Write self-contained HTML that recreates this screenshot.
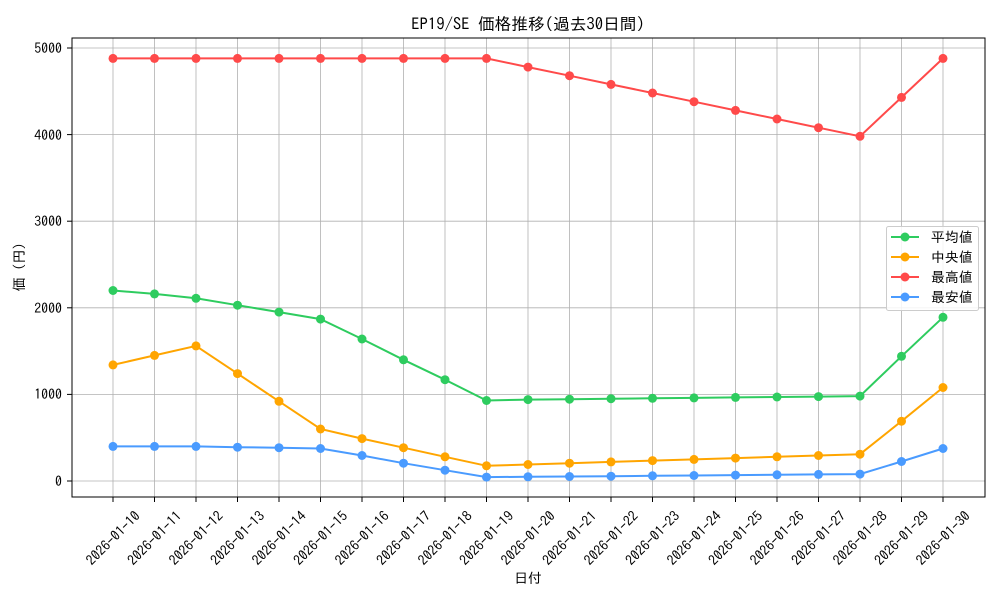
<!DOCTYPE html>
<html><head><meta charset="utf-8"><style>body{margin:0;background:#fff}svg{display:block;font-family:"IPAGothic","Noto Sans CJK JP",sans-serif}</style></head><body>
<svg width="1000" height="600" viewBox="0 0 1000 600">
<rect width="1000" height="600" fill="#fff"/>
<g stroke="#b0b0b0" stroke-width="0.8">
<line x1="72" x2="985" y1="481" y2="481"/><line x1="72" x2="985" y1="394.4" y2="394.4"/><line x1="72" x2="985" y1="307.8" y2="307.8"/><line x1="72" x2="985" y1="221.2" y2="221.2"/><line x1="72" x2="985" y1="134.6" y2="134.6"/><line x1="72" x2="985" y1="48" y2="48"/>
<line x1="113" x2="113" y1="38" y2="497"/><line x1="154.5" x2="154.5" y1="38" y2="497"/><line x1="196" x2="196" y1="38" y2="497"/><line x1="237.5" x2="237.5" y1="38" y2="497"/><line x1="279" x2="279" y1="38" y2="497"/><line x1="320.5" x2="320.5" y1="38" y2="497"/><line x1="362" x2="362" y1="38" y2="497"/><line x1="403.5" x2="403.5" y1="38" y2="497"/><line x1="445" x2="445" y1="38" y2="497"/><line x1="486.5" x2="486.5" y1="38" y2="497"/><line x1="528" x2="528" y1="38" y2="497"/><line x1="569.5" x2="569.5" y1="38" y2="497"/><line x1="611" x2="611" y1="38" y2="497"/><line x1="652.5" x2="652.5" y1="38" y2="497"/><line x1="694" x2="694" y1="38" y2="497"/><line x1="735.5" x2="735.5" y1="38" y2="497"/><line x1="777" x2="777" y1="38" y2="497"/><line x1="818.5" x2="818.5" y1="38" y2="497"/><line x1="860" x2="860" y1="38" y2="497"/><line x1="901.5" x2="901.5" y1="38" y2="497"/><line x1="943" x2="943" y1="38" y2="497"/>
</g>
<rect x="72" y="38" width="913" height="459" fill="none" stroke="#000" stroke-width="1"/>
<g stroke="#000"><line x1="67" x2="72" y1="481" y2="481"/><line x1="67" x2="72" y1="394.4" y2="394.4"/><line x1="67" x2="72" y1="307.8" y2="307.8"/><line x1="67" x2="72" y1="221.2" y2="221.2"/><line x1="67" x2="72" y1="134.6" y2="134.6"/><line x1="67" x2="72" y1="48" y2="48"/>
<line x1="113" x2="113" y1="497" y2="502"/><line x1="154.5" x2="154.5" y1="497" y2="502"/><line x1="196" x2="196" y1="497" y2="502"/><line x1="237.5" x2="237.5" y1="497" y2="502"/><line x1="279" x2="279" y1="497" y2="502"/><line x1="320.5" x2="320.5" y1="497" y2="502"/><line x1="362" x2="362" y1="497" y2="502"/><line x1="403.5" x2="403.5" y1="497" y2="502"/><line x1="445" x2="445" y1="497" y2="502"/><line x1="486.5" x2="486.5" y1="497" y2="502"/><line x1="528" x2="528" y1="497" y2="502"/><line x1="569.5" x2="569.5" y1="497" y2="502"/><line x1="611" x2="611" y1="497" y2="502"/><line x1="652.5" x2="652.5" y1="497" y2="502"/><line x1="694" x2="694" y1="497" y2="502"/><line x1="735.5" x2="735.5" y1="497" y2="502"/><line x1="777" x2="777" y1="497" y2="502"/><line x1="818.5" x2="818.5" y1="497" y2="502"/><line x1="860" x2="860" y1="497" y2="502"/><line x1="901.5" x2="901.5" y1="497" y2="502"/><line x1="943" x2="943" y1="497" y2="502"/></g>
<g font-size="13.9" text-anchor="end" fill="#000"><text x="62" y="486">0</text><text x="62" y="399">1000</text><text x="62" y="313">2000</text><text x="62" y="226">3000</text><text x="62" y="140">4000</text><text x="62" y="53">5000</text></g>
<g font-size="13.9" text-anchor="middle" fill="#000">
<text transform="translate(113,538) rotate(-45)" dy="5">2026-01-10</text><text transform="translate(154.5,538) rotate(-45)" dy="5">2026-01-11</text><text transform="translate(196,538) rotate(-45)" dy="5">2026-01-12</text><text transform="translate(237.5,538) rotate(-45)" dy="5">2026-01-13</text><text transform="translate(279,538) rotate(-45)" dy="5">2026-01-14</text><text transform="translate(320.5,538) rotate(-45)" dy="5">2026-01-15</text><text transform="translate(362,538) rotate(-45)" dy="5">2026-01-16</text><text transform="translate(403.5,538) rotate(-45)" dy="5">2026-01-17</text><text transform="translate(445,538) rotate(-45)" dy="5">2026-01-18</text><text transform="translate(486.5,538) rotate(-45)" dy="5">2026-01-19</text><text transform="translate(528,538) rotate(-45)" dy="5">2026-01-20</text><text transform="translate(569.5,538) rotate(-45)" dy="5">2026-01-21</text><text transform="translate(611,538) rotate(-45)" dy="5">2026-01-22</text><text transform="translate(652.5,538) rotate(-45)" dy="5">2026-01-23</text><text transform="translate(694,538) rotate(-45)" dy="5">2026-01-24</text><text transform="translate(735.5,538) rotate(-45)" dy="5">2026-01-25</text><text transform="translate(777,538) rotate(-45)" dy="5">2026-01-26</text><text transform="translate(818.5,538) rotate(-45)" dy="5">2026-01-27</text><text transform="translate(860,538) rotate(-45)" dy="5">2026-01-28</text><text transform="translate(901.5,538) rotate(-45)" dy="5">2026-01-29</text><text transform="translate(943,538) rotate(-45)" dy="5">2026-01-30</text>
</g>
<text x="528" y="583" font-size="13.9" text-anchor="middle">日付</text>
<text transform="translate(24,267) rotate(-90)" font-size="13.9" text-anchor="middle">価 (円)</text>
<text x="528" y="30" font-size="16.7" text-anchor="middle">EP19/SE 価格推移(過去30日間)</text>
<g fill="none" stroke-width="2">
<polyline stroke="#ff4a4a" points="113,58.4 154.5,58.4 196,58.4 237.5,58.4 279,58.4 320.5,58.4 362,58.4 403.5,58.4 445,58.4 486.5,58.4 528,67.1 569.5,75.7 611,84.4 652.5,93 694,101.7 735.5,110.4 777,119 818.5,127.7 860,136.3 901.5,97.4 943,58.4"/>
<polyline stroke="#2ecc5f" points="113,290.5 154.5,293.9 196,298.3 237.5,305.2 279,312.1 320.5,319.1 362,339 403.5,359.8 445,379.7 486.5,400.5 528,399.6 569.5,399.2 611,398.7 652.5,398.3 694,397.9 735.5,397.4 777,397 818.5,396.6 860,396.1 901.5,356.3 943,317.3"/>
<polyline stroke="#ffa500" points="113,364.9 154.5,355.4 196,345.9 237.5,373.6 279,401.3 320.5,429 362,438.6 403.5,447.7 445,456.8 486.5,465.8 528,464.5 569.5,463.2 611,461.9 652.5,460.6 694,459.4 735.5,458.1 777,456.8 818.5,455.5 860,454.2 901.5,421.2 943,387.5"/>
<polyline stroke="#4a9bff" points="113,446.4 154.5,446.4 196,446.4 237.5,447.2 279,447.7 320.5,448.5 362,455.5 403.5,463.2 445,470.2 486.5,477.1 528,476.8 569.5,476.5 611,476.2 652.5,475.8 694,475.5 735.5,475.1 777,474.8 818.5,474.4 860,474.1 901.5,461.5 943,448.5"/>
</g>
<g fill="#ff4a4a"><circle cx="113" cy="58.4" r="4.5"/><circle cx="154.5" cy="58.4" r="4.5"/><circle cx="196" cy="58.4" r="4.5"/><circle cx="237.5" cy="58.4" r="4.5"/><circle cx="279" cy="58.4" r="4.5"/><circle cx="320.5" cy="58.4" r="4.5"/><circle cx="362" cy="58.4" r="4.5"/><circle cx="403.5" cy="58.4" r="4.5"/><circle cx="445" cy="58.4" r="4.5"/><circle cx="486.5" cy="58.4" r="4.5"/><circle cx="528" cy="67.1" r="4.5"/><circle cx="569.5" cy="75.7" r="4.5"/><circle cx="611" cy="84.4" r="4.5"/><circle cx="652.5" cy="93" r="4.5"/><circle cx="694" cy="101.7" r="4.5"/><circle cx="735.5" cy="110.4" r="4.5"/><circle cx="777" cy="119" r="4.5"/><circle cx="818.5" cy="127.7" r="4.5"/><circle cx="860" cy="136.3" r="4.5"/><circle cx="901.5" cy="97.4" r="4.5"/><circle cx="943" cy="58.4" r="4.5"/></g>
<g fill="#2ecc5f"><circle cx="113" cy="290.5" r="4.5"/><circle cx="154.5" cy="293.9" r="4.5"/><circle cx="196" cy="298.3" r="4.5"/><circle cx="237.5" cy="305.2" r="4.5"/><circle cx="279" cy="312.1" r="4.5"/><circle cx="320.5" cy="319.1" r="4.5"/><circle cx="362" cy="339" r="4.5"/><circle cx="403.5" cy="359.8" r="4.5"/><circle cx="445" cy="379.7" r="4.5"/><circle cx="486.5" cy="400.5" r="4.5"/><circle cx="528" cy="399.6" r="4.5"/><circle cx="569.5" cy="399.2" r="4.5"/><circle cx="611" cy="398.7" r="4.5"/><circle cx="652.5" cy="398.3" r="4.5"/><circle cx="694" cy="397.9" r="4.5"/><circle cx="735.5" cy="397.4" r="4.5"/><circle cx="777" cy="397" r="4.5"/><circle cx="818.5" cy="396.6" r="4.5"/><circle cx="860" cy="396.1" r="4.5"/><circle cx="901.5" cy="356.3" r="4.5"/><circle cx="943" cy="317.3" r="4.5"/></g>
<g fill="#ffa500"><circle cx="113" cy="364.9" r="4.5"/><circle cx="154.5" cy="355.4" r="4.5"/><circle cx="196" cy="345.9" r="4.5"/><circle cx="237.5" cy="373.6" r="4.5"/><circle cx="279" cy="401.3" r="4.5"/><circle cx="320.5" cy="429" r="4.5"/><circle cx="362" cy="438.6" r="4.5"/><circle cx="403.5" cy="447.7" r="4.5"/><circle cx="445" cy="456.8" r="4.5"/><circle cx="486.5" cy="465.8" r="4.5"/><circle cx="528" cy="464.5" r="4.5"/><circle cx="569.5" cy="463.2" r="4.5"/><circle cx="611" cy="461.9" r="4.5"/><circle cx="652.5" cy="460.6" r="4.5"/><circle cx="694" cy="459.4" r="4.5"/><circle cx="735.5" cy="458.1" r="4.5"/><circle cx="777" cy="456.8" r="4.5"/><circle cx="818.5" cy="455.5" r="4.5"/><circle cx="860" cy="454.2" r="4.5"/><circle cx="901.5" cy="421.2" r="4.5"/><circle cx="943" cy="387.5" r="4.5"/></g>
<g fill="#4a9bff"><circle cx="113" cy="446.4" r="4.5"/><circle cx="154.5" cy="446.4" r="4.5"/><circle cx="196" cy="446.4" r="4.5"/><circle cx="237.5" cy="447.2" r="4.5"/><circle cx="279" cy="447.7" r="4.5"/><circle cx="320.5" cy="448.5" r="4.5"/><circle cx="362" cy="455.5" r="4.5"/><circle cx="403.5" cy="463.2" r="4.5"/><circle cx="445" cy="470.2" r="4.5"/><circle cx="486.5" cy="477.1" r="4.5"/><circle cx="528" cy="476.8" r="4.5"/><circle cx="569.5" cy="476.5" r="4.5"/><circle cx="611" cy="476.2" r="4.5"/><circle cx="652.5" cy="475.8" r="4.5"/><circle cx="694" cy="475.5" r="4.5"/><circle cx="735.5" cy="475.1" r="4.5"/><circle cx="777" cy="474.8" r="4.5"/><circle cx="818.5" cy="474.4" r="4.5"/><circle cx="860" cy="474.1" r="4.5"/><circle cx="901.5" cy="461.5" r="4.5"/><circle cx="943" cy="448.5" r="4.5"/></g>
<rect x="886.5" y="226.5" width="92" height="84" rx="2" fill="#fff" fill-opacity="0.85" stroke="#ccc"/>
<g stroke-width="2"><line x1="891" x2="919" y1="237" y2="237" stroke="#2ecc5f"/><line x1="891" x2="919" y1="257" y2="257" stroke="#ffa500"/><line x1="891" x2="919" y1="277" y2="277" stroke="#ff4a4a"/><line x1="891" x2="919" y1="297" y2="297" stroke="#4a9bff"/></g>
<circle cx="905" cy="237" r="4.5" fill="#2ecc5f"/><circle cx="905" cy="257" r="4.5" fill="#ffa500"/><circle cx="905" cy="277" r="4.5" fill="#ff4a4a"/><circle cx="905" cy="297" r="4.5" fill="#4a9bff"/>
<g font-size="13.9"><text x="931" y="242">平均値</text><text x="931" y="262">中央値</text><text x="931" y="282">最高値</text><text x="931" y="302">最安値</text></g>
</svg>
</body></html>
